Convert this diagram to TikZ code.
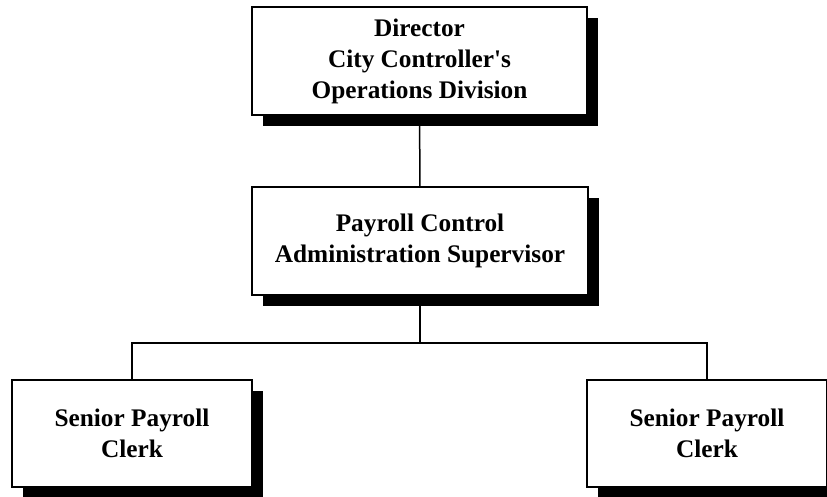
\documentclass[tikz,border=0pt]{standalone}
\usepackage{fontspec}
\setmainfont{Liberation Serif}
\usetikzlibrary{positioning,shadows}

\begin{document}
\begin{tikzpicture}[
  x=1pt, y=-1pt,
  post/.style={
    rectangle, draw=black, line width=1.6pt, fill=white, inner sep=0pt,
    align=center, font=\fontsize{25.3}{31}\selectfont\bfseries,
    drop shadow={shadow xshift=10.5pt, shadow yshift=-11pt, fill=black, opacity=1}
  },
  link/.style={line width=1.5pt, black}
]
\useasboundingbox (0,0) rectangle (827,496);

% === Boxes ===
\node[post, minimum width=335pt, minimum height=108pt] (director) at (419.5,61)
  {Director\\City Controller\textquotesingle s\\Operations Division};
\node[post, minimum width=336pt, minimum height=108pt] (supervisor) at (420,241)
  {Payroll Control\\Administration Supervisor};
\node[post, minimum width=240pt, minimum height=107pt] (clerkleft) at (132,433.5)
  {Senior Payroll\\Clerk};
\node[post, minimum width=240pt, minimum height=107pt] (clerkright) at (707,433.5)
  {Senior Payroll\\Clerk};

% === Connectors ===
\coordinate (bus) at (420,343);
\draw[link] (director) -- (supervisor);
\draw[link] (supervisor.south) -- (bus);
\draw[link] (clerkleft.north) |- (bus) -| (clerkright.north);

\end{tikzpicture}
\end{document}
